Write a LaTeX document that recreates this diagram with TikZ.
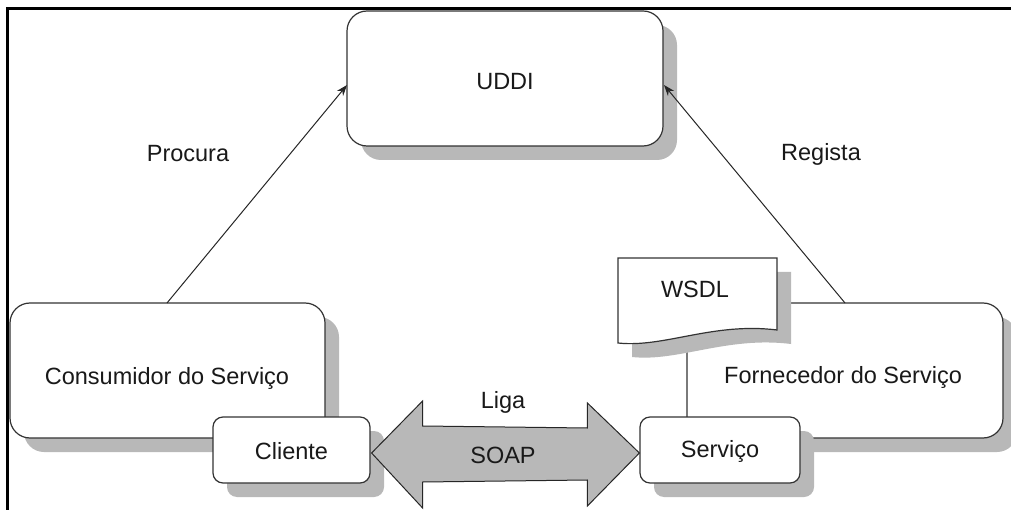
\documentclass[tikz,border=0pt]{standalone}
\usepackage{fontspec}
\setmainfont{Liberation Sans}
\usetikzlibrary{arrows.meta,calc,shadows}

\tikzset{
  shadowed/.style={drop shadow={shadow xshift=14pt,shadow yshift=-14pt,fill=black!28,opacity=1}},
  bigbox/.style={draw=black!80,line width=1.2pt,fill=white,rounded corners=20pt,
    shadowed,inner sep=0pt},
  smallbox/.style={draw=black!80,line width=1.2pt,fill=white,rounded corners=10pt,
    shadowed,inner sep=0pt},
  lbl/.style={font=\fontsize{23.5}{26}\selectfont,text=black!90,inner sep=0pt},
  link/.style={draw=black!85,line width=1pt,-{Stealth[length=11pt,width=8pt]}},
  frameline/.style={line width=3.5pt,black},
}

\begin{document}
\begin{tikzpicture}[x=1pt,y=-1pt]
  \useasboundingbox (0,0) rectangle (1011,510);
  \fill[white] (0,0) rectangle (1011,510);

  % page frame, top and left edges
  \draw[frameline] (7.5,510) -- (7.5,8.5) -- (1011,8.5);

  % registry
  \node[bigbox,minimum width=316pt,minimum height=135pt] (uddi) at (505,78.5) {};
  \node[lbl] (uddit) at (505,82) {UDDI};

  % consumer side
  \node[bigbox,minimum width=315pt,minimum height=135pt] (cons) at (167.5,370.5) {};
  \node[lbl] (const) at (167,378) {Consumidor do Serviço};
  \node[smallbox,minimum width=157pt,minimum height=66pt] (cli) at (291.5,450) {};
  \node[lbl] (clit) at (291.5,451) {Cliente};

  % provider side
  \node[bigbox,minimum width=316pt,minimum height=135pt] (forn) at (845,370.5) {};
  \node[lbl] (fornt) at (843,377) {Fornecedor do Serviço};
  \node[smallbox,minimum width=160pt,minimum height=66pt] (srv) at (720,450) {};
  \node[lbl] (srvt) at (720,451) {Serviço};

  % WSDL document
  \coordinate (wsdlnw) at (618,258);
  \coordinate (wsdlne) at (777,258);
  \fill[black!28] ($(wsdlnw)+(14,14)$) -- ($(wsdlne)+(14,14)$) -- ($(wsdlne)+(14,86)$)
     .. controls ($(wsdlne)+(-50,78)$) and ($(wsdlnw)+(60,104)$) .. ($(wsdlnw)+(14,99)$) -- cycle;
  \draw[draw=black!80,line width=1.2pt,fill=white] (wsdlnw) -- (wsdlne) -- ($(wsdlne)+(0,72)$)
     .. controls ($(wsdlne)+(-64,64)$) and ($(wsdlnw)+(46,90)$) .. ($(wsdlnw)+(0,85)$) -- cycle;
  \node[lbl] (wsdl) at (695,289) {WSDL};

  % discovery and publication
  \draw[link] (167,303) -- (347,85);
  \draw[link] (845,303) -- (664,85);
  \node[lbl] (proc) at (188,154) {Procura};
  \node[lbl] (reg) at (821,154) {Regista};

  % binding between client and service
  \draw[draw=black!85,line width=1pt,fill=black!28]
    ($(cli.east)+(1,3)$) -- ++(51,-52) -- ++(0,25) -- ($(srv.west)+(-52,-22)$)
    -- ++(0,-25) -- ($(srv.west)+(0,3)$) -- ++(-52,53) -- ++(0,-26)
    -- ($(cli.east)+(52,32)$) -- ++(0,26) -- cycle;
  \node[lbl] (liga) at (503,402) {Liga};
  \node[lbl] (soap) at (503,455) {SOAP};
\end{tikzpicture}
\end{document}
